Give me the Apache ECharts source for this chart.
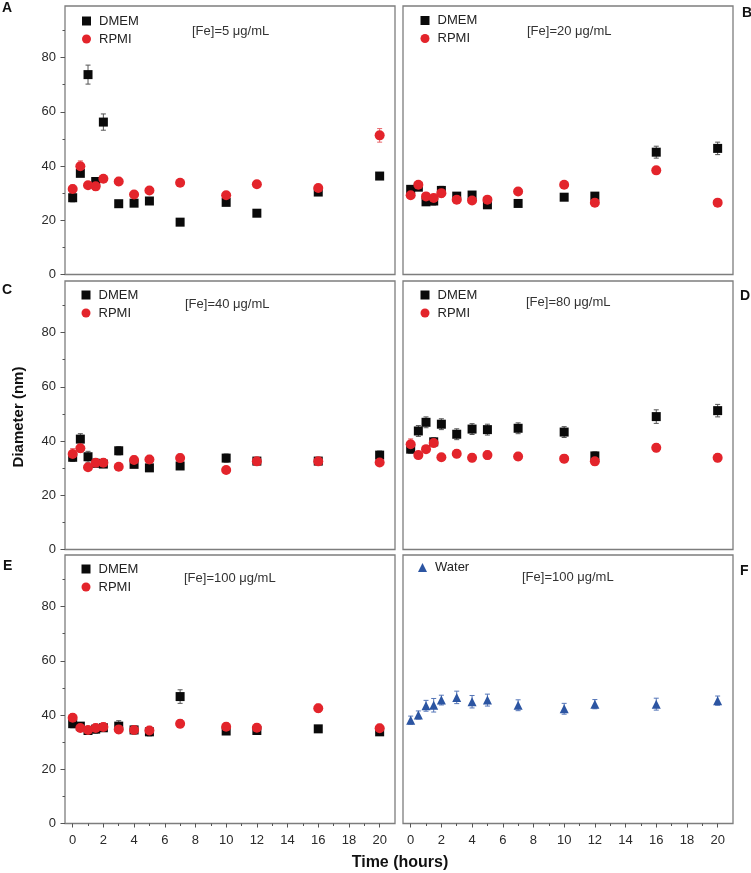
<!DOCTYPE html>
<html><head><meta charset="utf-8">
<script src="https://cdn.jsdelivr.net/npm/echarts@6/dist/echarts.min.js"></script>
<style>html,body{margin:0;padding:0;background:#fff}#c{width:751px;height:873px}</style>
</head><body><div id="c"></div>
<script>
// ---- data ----
const timeH = [0, 0.5, 1, 1.5, 2, 3, 4, 5, 7, 10, 12, 16, 20];
const xTickLabels = [0, 2, 4, 6, 8, 10, 12, 14, 16, 18, 20];
const xMinorTicks = [1, 3, 5, 7, 9, 11, 13, 15, 17, 19];
const yTickLabels = [0, 20, 40, 60, 80];
const yMinorTicks = [10, 30, 50, 70, 90];

const dmemA = [28.3, 37.3, 73.7, 34.3, 56.2, 26.1, 26.3, 27.1, 19.3, 26.6, 22.6, 30.4, 36.3];
const dmemErrA = [1.5, 1, 3.5, 1, 3, 0.8, 0.8, 0.8, 0.8, 0.8, 0.8, 1, 1.2];
const rpmiA = [31.5, 39.9, 32.9, 32.5, 35.3, 34.3, 29.5, 31.0, 33.8, 29.2, 33.3, 31.9, 51.3];
const rpmiErrA = [1.5, 2, 1, 1.5, 1, 1.5, 1, 1, 1, 1, 1.2, 1, 2.5];

const dmemB = [31.4, 32.2, 26.8, 27.1, 31.0, 28.9, 29.3, 25.7, 26.2, 28.5, 28.9, 45.1, 46.5];
const dmemErrB = [1, 1, 1, 1.5, 1.5, 1, 1, 1, 0.8, 1, 1, 2.2, 2.3];
const rpmiB = [29.2, 33.1, 28.8, 28.2, 30.0, 27.6, 27.3, 27.6, 30.6, 33.1, 26.5, 38.4, 26.5];
const rpmiErrB = [1, 1, 1, 1, 1.5, 1, 1, 1, 1.2, 1, 1, 1, 0.8];

const dmemC = [34.0, 40.7, 34.2, 31.8, 31.5, 36.4, 31.4, 30.1, 30.8, 33.7, 32.6, 32.6, 34.8];
const dmemErrC = [1.5, 2, 2, 1, 1, 1.5, 1, 0.8, 0.8, 1.5, 1, 1, 1.5];
const rpmiC = [35.2, 37.3, 30.3, 32.0, 32.0, 30.5, 33.0, 33.2, 33.7, 29.3, 32.5, 32.5, 32.1];
const rpmiErrC = [2, 1.5, 1, 1.5, 1.5, 1, 1.5, 1.5, 1.5, 1, 1, 1, 1];

const dmemD = [37.0, 43.7, 46.9, 39.7, 46.2, 42.5, 44.4, 44.2, 44.7, 43.3, 34.5, 49.0, 51.2];
const dmemErrD = [1.5, 2, 2, 1.5, 2, 2, 2, 2, 2, 2, 1.5, 2.5, 2.3];
const rpmiD = [38.8, 34.8, 37.0, 39.3, 34.0, 35.3, 33.8, 34.8, 34.3, 33.5, 32.5, 37.5, 33.8];
const rpmiErrD = [2, 1, 1, 1.5, 1, 1.5, 1.5, 1.5, 1.5, 1.5, 1.5, 1.5, 1.5];

const dmemE = [36.8, 35.9, 34.3, 34.8, 35.3, 35.9, 34.5, 33.8, 46.8, 34.1, 34.3, 34.9, 33.8];
const dmemErrE = [1.5, 1, 1, 1.5, 1, 2, 1.5, 1.5, 2.5, 1, 1, 1, 1];
const rpmiE = [39.0, 35.2, 34.5, 35.2, 35.6, 34.7, 34.5, 34.3, 36.8, 35.7, 35.3, 42.5, 35.1];
const rpmiErrE = [1.5, 1, 1, 1.5, 1.5, 1.5, 1, 1.5, 1.5, 1.5, 1.5, 1.5, 1.5];

const waterF = [38.1, 40.0, 43.4, 43.6, 45.5, 46.5, 44.9, 45.5, 43.6, 42.3, 44.0, 44.0, 45.3];
const waterErrF = [1.5, 1.5, 2, 2.5, 1.8, 2.3, 2.3, 2.2, 2, 2, 1.7, 2.2, 1.7];

const panelLetters = ['A', 'B', 'C', 'D', 'E', 'F'];
const panelNotes = ['[Fe]=5 μg/mL', '[Fe]=20 μg/mL', '[Fe]=40 μg/mL', '[Fe]=80 μg/mL', '[Fe]=100 μg/mL', '[Fe]=100 μg/mL'];

// ---- layout / style ----
const FONT = 'Liberation Sans, Arial, Helvetica, sans-serif';
const COL = { DMEM: '#0a0a0a', RPMI: '#e3242b', Water: '#2c55a2' };
const ERRCOL = { DMEM: '#555555', RPMI: '#e8656a', Water: '#5576b8' };
const SYM = { DMEM: 'rect', RPMI: 'circle', Water: 'triangle' };
const SYMSIZE = { DMEM: 9, RPMI: 10, Water: 9 };

const layout = [
  { left: 65, top: 6, bottomRow: false, leftCol: true },
  { left: 403, top: 6, bottomRow: false, leftCol: false },
  { left: 65, top: 281, bottomRow: false, leftCol: true },
  { left: 403, top: 281, bottomRow: false, leftCol: false },
  { left: 65, top: 555, bottomRow: true, leftCol: true },
  { left: 403, top: 555, bottomRow: true, leftCol: false }
];
const GW = 330, GH = 268.5;

const panelSeries = [
  [['DMEM', dmemA, dmemErrA], ['RPMI', rpmiA, rpmiErrA]],
  [['DMEM', dmemB, dmemErrB], ['RPMI', rpmiB, rpmiErrB]],
  [['DMEM', dmemC, dmemErrC], ['RPMI', rpmiC, rpmiErrC]],
  [['DMEM', dmemD, dmemErrD], ['RPMI', rpmiD, rpmiErrD]],
  [['DMEM', dmemE, dmemErrE], ['RPMI', rpmiE, rpmiErrE]],
  [['Water', waterF, waterErrF]]
];

const legendPos = [
  { left: 82, top: 14.5 }, { left: 420.5, top: 14 },
  { left: 81.5, top: 288.5 }, { left: 420.5, top: 288.5 },
  { left: 81.5, top: 562.5 }, { left: 418, top: 561 }
];
const notePos = [
  { left: 192, top: 24.5 }, { left: 527, top: 24.5 },
  { left: 185, top: 297.5 }, { left: 526, top: 296 },
  { left: 184, top: 572 }, { left: 522, top: 571 }
];
const letterPos = [
  { left: 2, top: 1 }, { left: 742, top: 6 },
  { left: 2, top: 283 }, { left: 740, top: 289 },
  { left: 3, top: 559 }, { left: 740, top: 564 }
];

const grid = [], xAxis = [], yAxis = [], series = [], legend = [], title = [];

layout.forEach((p, g) => {
  grid.push({ left: p.left, top: p.top, width: GW, height: GH, show: true,
    borderColor: '#7d7d7d', borderWidth: 1.3, backgroundColor: 'transparent' });
  const xBase = { type: 'value', gridIndex: g, min: -0.5, max: 21, position: 'bottom',
    axisLine: { show: false, onZero: false }, splitLine: { show: false } };
  xAxis.push(Object.assign({}, xBase, {
    axisTick: { show: p.bottomRow, customValues: xTickLabels, length: 4, lineStyle: { color: '#555', width: 1 } },
    axisLabel: { show: p.bottomRow, customValues: xTickLabels, margin: 10, fontSize: 13, color: '#2a2a2a', fontFamily: FONT }
  }));
  xAxis.push(Object.assign({}, xBase, {
    axisTick: { show: p.bottomRow, customValues: xMinorTicks, length: 2.5, lineStyle: { color: '#555', width: 1 } },
    axisLabel: { show: false }
  }));
  const yBase = { type: 'value', gridIndex: g, min: 0, max: 99, position: 'left',
    axisLine: { show: false, onZero: false }, splitLine: { show: false } };
  yAxis.push(Object.assign({}, yBase, {
    axisTick: { show: p.leftCol, customValues: yTickLabels, length: 4.5, lineStyle: { color: '#555', width: 1 } },
    axisLabel: { show: p.leftCol, customValues: yTickLabels, margin: 9, fontSize: 13, color: '#2a2a2a', fontFamily: FONT }
  }));
  yAxis.push(Object.assign({}, yBase, {
    axisTick: { show: p.leftCol, customValues: yMinorTicks, length: 2.5, lineStyle: { color: '#555', width: 1 } },
    axisLabel: { show: false }
  }));

  const names = [];
  panelSeries[g].forEach(([name, vals, errs]) => {
    names.push({ name: name, icon: SYM[name] });
    const ecol = ERRCOL[name];
    series.push({
      type: 'custom', name: name + ' error', coordinateSystem: 'cartesian2d',
      xAxisIndex: 2 * g, yAxisIndex: 2 * g, silent: true, animation: false,
      data: timeH.map((t, i) => [t, vals[i], errs[i]]),
      renderItem: function (params, api) {
        const x = api.value(0), y = api.value(1), e = api.value(2);
        const hi = api.coord([x, y + e]);
        const lo = api.coord([x, y - e]);
        const st = { stroke: ecol, lineWidth: 1 };
        return { type: 'group', children: [
          { type: 'line', shape: { x1: hi[0], y1: hi[1], x2: lo[0], y2: lo[1] }, style: st },
          { type: 'line', shape: { x1: hi[0] - 2.5, y1: hi[1], x2: hi[0] + 2.5, y2: hi[1] }, style: st },
          { type: 'line', shape: { x1: lo[0] - 2.5, y1: lo[1], x2: lo[0] + 2.5, y2: lo[1] }, style: st }
        ] };
      }
    });
    series.push({
      type: 'scatter', name: name, xAxisIndex: 2 * g, yAxisIndex: 2 * g,
      symbol: SYM[name], symbolSize: SYMSIZE[name], animation: false,
      itemStyle: { color: COL[name], opacity: 1 },
      data: timeH.map((t, i) => [t, vals[i]])
    });
  });

  legend.push({ left: legendPos[g].left, top: legendPos[g].top, orient: 'vertical', padding: 0,
    itemGap: 5, itemWidth: 9, itemHeight: 9, selectedMode: false, data: names,
    textStyle: { fontSize: 13, color: '#222', fontFamily: FONT, padding: [0, 0, 0, 3] } });

  title.push({ text: panelNotes[g], left: notePos[g].left, top: notePos[g].top, padding: 0,
    textStyle: { fontSize: 13, fontWeight: 'normal', color: '#333', fontFamily: FONT } });
  title.push({ text: panelLetters[g], left: letterPos[g].left, top: letterPos[g].top, padding: 0,
    textStyle: { fontSize: 14, fontWeight: 'bold', color: '#111', fontFamily: FONT } });
});

const chart = echarts.init(document.getElementById('c'), null, { renderer: 'canvas' });
chart.setOption({
  backgroundColor: '#ffffff',
  animation: false,
  grid, xAxis, yAxis, series, legend, title,
  graphic: [
    { type: 'text', x: 19, y: 417, rotation: Math.PI / 2,
      style: { text: 'Diameter (nm)', fontSize: 15, fontWeight: 'bold', fill: '#111', fontFamily: FONT,
        textAlign: 'center', textVerticalAlign: 'middle' } },
    { type: 'text', x: 400, y: 863,
      style: { text: 'Time (hours)', fontSize: 16, fontWeight: 'bold', fill: '#111', fontFamily: FONT,
        textAlign: 'center', textVerticalAlign: 'middle' } }
  ]
});
</script></body></html>
